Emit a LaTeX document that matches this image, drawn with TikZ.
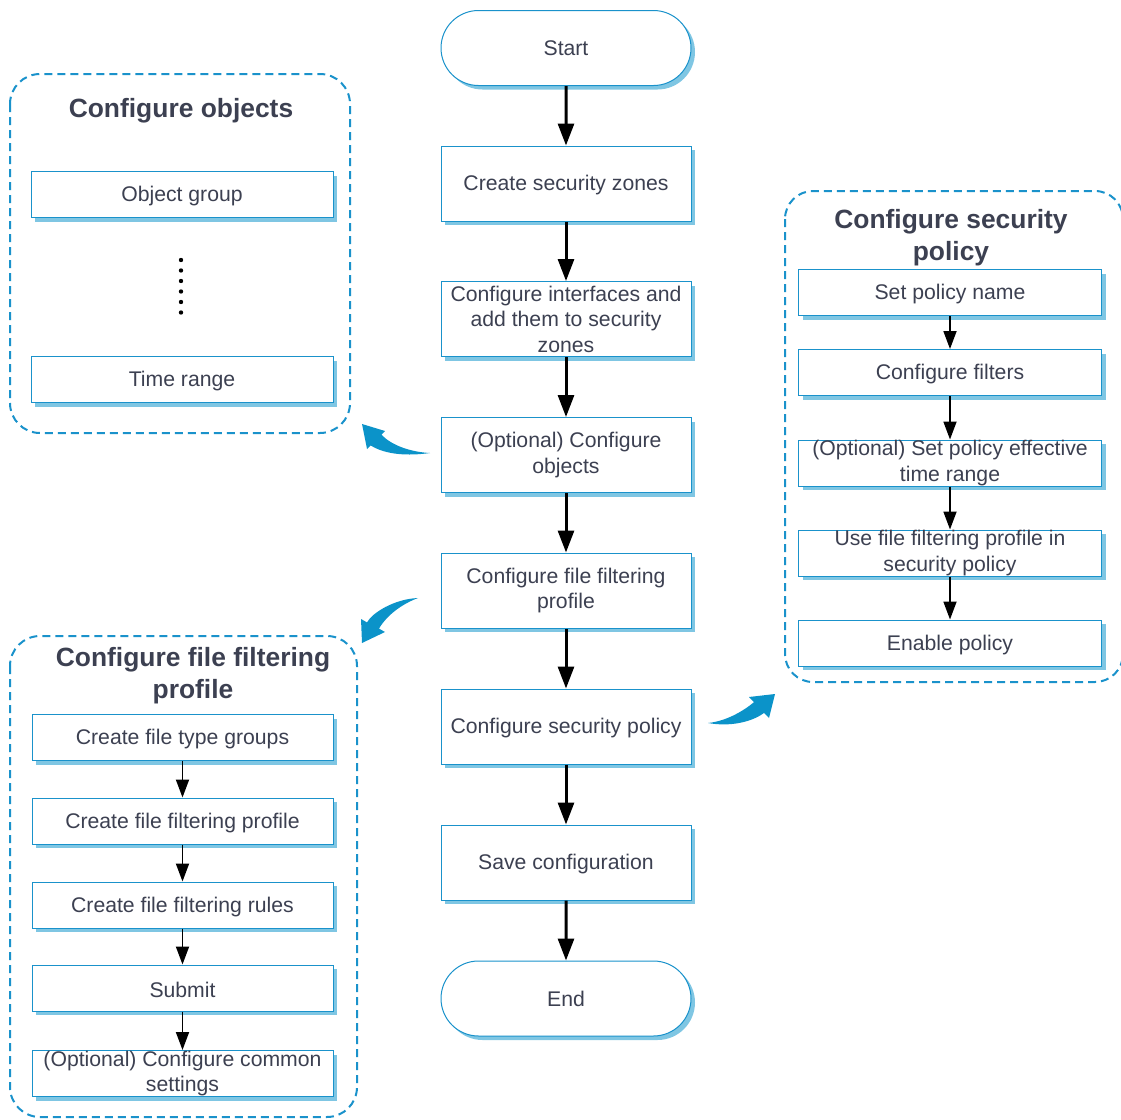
\documentclass[tikz,border=0pt]{standalone}
\usepackage{fontspec}
\setmainfont{Liberation Sans}
\usetikzlibrary{arrows.meta,shadows,shapes.misc}

\definecolor{txt}{HTML}{3C4051}
\definecolor{edge}{HTML}{1A92CB}
\definecolor{shade}{HTML}{7FC6E3}
\definecolor{flow}{HTML}{0B93C9}

\tikzset{
  box/.style={draw=edge, line width=0.5pt, fill=white, text=txt, align=center,
    font=\fontsize{10.6}{12.75}\selectfont, inner sep=0pt,
    drop shadow={shadow xshift=2pt, shadow yshift=-2pt, fill=shade, opacity=1}},
  lowered/.style={execute at begin node={\rule{0pt}{9.6pt}}},
  mainbox/.style={box, lowered, rectangle, minimum width=125pt, minimum height=37.5pt},
  term/.style={box, rounded rectangle, minimum width=125pt, minimum height=37.5pt},
  subbox/.style={box, lowered, rectangle, minimum width=151pt, minimum height=23pt},
  group/.style={draw=edge, line width=1pt, dash pattern=on 4pt off 2.5pt, rounded corners=15pt},
  grouptitle/.style={text=txt, align=center, font=\fontsize{13.2}{16}\selectfont\bfseries},
  mainflow/.style={-{Triangle[length=11pt,width=8pt]}, line width=1.5pt},
  subflow/.style={-{Triangle[length=9pt,width=6.5pt]}, line width=0.9pt},
  pointer/.style={fill=flow, draw=none},
}

\begin{document}
\begin{tikzpicture}[x=0.5pt,y=-0.5pt]
\useasboundingbox (0,0) rectangle (1121,1120);

% dashed group frames
\draw[group] (10,74) rectangle (350,433);
\draw[group] (10,636) rectangle (357,1117);
\draw[group, rounded corners=14pt] (785,191) rectangle (1123,682);

% group titles
\node[grouptitle] (t1) at (181,111) {Configure objects};
\node[grouptitle] (t2) at (193,676) {Configure file filtering\\profile};
\node[grouptitle] (t3) at (951,238) {Configure security\\policy};

% main flow
\node[term] (start) at (566,48) {Start};
\node[mainbox] (zones) at (566,183.5) {Create security zones};
\node[mainbox] (ifaces) at (566,319) {Configure interfaces and\\add them to security\\zones};
\node[mainbox] (objs) at (566,455) {(Optional) Configure\\objects};
\node[mainbox] (ffp) at (566,590.5) {Configure file filtering\\profile};
\node[mainbox] (secpol) at (566,726.5) {Configure security policy};
\node[mainbox] (save) at (566,862.5) {Save configuration};
\node[term] (end) at (566,998.5) {End};

\draw[mainflow] (start) -- (zones);
\draw[mainflow] (zones) -- (ifaces);
\draw[mainflow] (ifaces) -- (objs);
\draw[mainflow] (objs) -- (ffp);
\draw[mainflow] (ffp) -- (secpol);
\draw[mainflow] (secpol) -- (save);
\draw[mainflow] (save) -- (end);

% objects
\node[subbox] (objgrp) at (182,194.5) {Object group};
\node[subbox] (trange) at (182,379.5) {Time range};
\foreach \k in {0,...,5} \fill (181,260+10.5*\k) circle (1.1pt);

% file filtering profile
\node[subbox, minimum width=150.5pt] (ftg) at (182.5,737.5) {Create file type groups};
\node[subbox, minimum width=150.5pt] (fprof) at (182.5,821) {Create file filtering profile};
\node[subbox, minimum width=150.5pt] (frules) at (182.5,905) {Create file filtering rules};
\node[subbox, minimum width=150.5pt] (submit) at (182.5,988) {Submit};
\node[subbox, minimum width=150.5pt] (common) at (182.5,1073.5) {(Optional) Configure common\\settings};

\draw[subflow] (ftg) -- (fprof);
\draw[subflow] (fprof) -- (frules);
\draw[subflow] (frules) -- (submit);
\draw[subflow] (submit) -- (common);

% security policy
\node[subbox, minimum width=151.5pt] (pname) at (950,292.5) {Set policy name};
\node[subbox, minimum width=151.5pt] (filters) at (950,372.5) {Configure filters};
\node[subbox, minimum width=151.5pt] (ptime) at (950,463) {(Optional) Set policy effective\\time range};
\node[subbox, minimum width=151.5pt] (useffp) at (950,553) {Use file filtering profile in\\security policy};
\node[subbox, minimum width=151.5pt] (enable) at (950,643) {Enable policy};

\draw[subflow] (pname) -- (filters);
\draw[subflow] (filters) -- (ptime);
\draw[subflow] (ptime) -- (useffp);
\draw[subflow] (useffp) -- (enable);

% curved pointers towards the detail frames
\fill[pointer] (362,424) -- (385,431) -- (381.4,434.6)
  .. controls (391,445) and (410,452) .. (430,453)
  .. controls (408,456) and (386,455) .. (370.6,445.4) -- (367,449) -- cycle;
\fill[pointer] (362,643) -- (361,619) -- (367,622.4)
  .. controls (372,613) and (394,599) .. (418,598)
  .. controls (402,604) and (387,615) .. (379,628.6) -- (385,632) -- cycle;
\fill[pointer] (775,694) -- (749,697) -- (754,702.1)
  .. controls (746,709) and (728,721) .. (708,723)
  .. controls (730,727) and (752,722) .. (764,712.9) -- (769,718) -- cycle;
\end{tikzpicture}
\end{document}
